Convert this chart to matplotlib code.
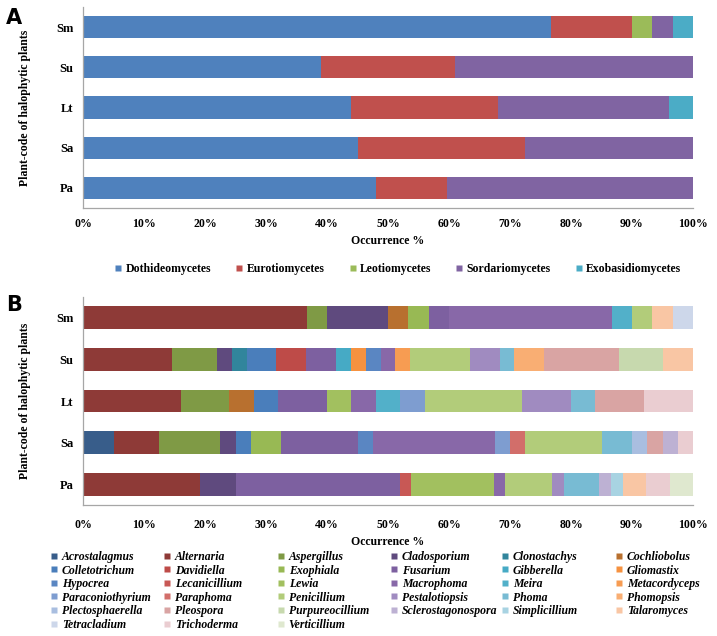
import numpy as np
import matplotlib
matplotlib.use('Agg')
import matplotlib.pyplot as plt
from matplotlib.lines import Line2D

plt.rcParams['font.family'] = ['Liberation Serif', 'DejaVu Serif']
plt.rcParams['font.weight'] = 'bold'

PLANTS = ['Sm', 'Su', 'Lt', 'Sa', 'Pa']

# panel A: isolates per fungal class
CLASSES = ['Dothideomycetes', 'Eurotiomycetes', 'Leotiomycetes',
           'Sordariomycetes', 'Exobasidiomycetes']
CLASS_COLORS = ['#4F81BD', '#C0504D', '#9BBB59', '#8064A2', '#4BACC6']
sm_class = [23, 4, 1, 1, 1]
su_class = [16, 9, 0, 16, 0]
lt_class = [11, 6, 0, 7, 1]
sa_class = [18, 11, 0, 11, 0]
pa_class = [25, 6, 0, 21, 0]

# panel B: isolates per genus
GENERA = ['Acrostalagmus', 'Alternaria', 'Aspergillus', 'Cladosporium', 'Clonostachys', 'Cochliobolus',
          'Colletotrichum', 'Davidiella', 'Exophiala', 'Fusarium', 'Gibberella', 'Gliomastix',
          'Hypocrea', 'Lecanicillium', 'Lewia', 'Macrophoma', 'Meira', 'Metacordyceps',
          'Paraconiothyrium', 'Paraphoma', 'Penicillium', 'Pestalotiopsis', 'Phoma', 'Phomopsis',
          'Plectosphaerella', 'Pleospora', 'Purpureocillium', 'Sclerostagonospora', 'Simplicillium', 'Talaromyces',
          'Tetracladium', 'Trichoderma', 'Verticillium']
GENUS_COLORS = ['#385D8A', '#8E3A37', '#7F9A45', '#5F4A7E', '#31859C', '#B8702F',
                '#4A7EBB', '#BE4B48', '#98B954', '#7D60A0', '#46AAC5', '#F69240',
                '#5A86C2', '#C85855', '#A2C05F', '#8868A8', '#52B0C9', '#F79C52',
                '#7E9DD0', '#D26E6A', '#B2CC7A', '#A08BC0', '#78BBD3', '#F9AE73',
                '#A9BEE0', '#D9A4A3', '#C7D9AE', '#BDB1D3', '#A8D3E2', '#F9C6A4',
                '#CDD7EA', '#EACDD1', '#DFE8CF']
sm_genus = [0, 11, 1, 3, 0, 1, 0, 0, 1, 1, 0, 0, 0, 0, 0, 8, 1, 0,
            0, 0, 1, 0, 0, 0, 0, 0, 0, 0, 0, 1, 1, 0, 0]
su_genus = [0, 6, 3, 1, 1, 0, 2, 2, 0, 2, 1, 1, 1, 0, 0, 1, 0, 1,
            0, 0, 4, 2, 1, 2, 0, 5, 3, 0, 0, 2, 0, 0, 0]
lt_genus = [0, 4, 2, 0, 0, 1, 1, 0, 0, 2, 0, 0, 0, 0, 1, 1, 1, 0,
            1, 0, 4, 2, 1, 0, 0, 2, 0, 0, 0, 0, 0, 2, 0]
sa_genus = [2, 3, 4, 1, 0, 0, 1, 0, 2, 5, 0, 0, 1, 0, 0, 8, 0, 0,
            1, 1, 5, 0, 2, 0, 1, 1, 0, 1, 0, 0, 0, 1, 0]
pa_genus = [0, 10, 0, 3, 0, 0, 0, 0, 0, 14, 0, 0, 0, 1, 7, 1, 0, 0,
            0, 0, 4, 1, 3, 0, 0, 0, 0, 1, 1, 2, 0, 2, 2]

W, H = 717, 636
AXIS_GRAY = '#A6A6A6'


def stacked(ax, table, colors, xpad):
    pct = table / table.sum(axis=1, keepdims=True) * 100
    y = np.arange(len(PLANTS))
    left = np.zeros(len(PLANTS))
    for j in range(pct.shape[1]):
        ax.barh(y, pct[:, j], left=left, height=0.55, color=colors[j],
                edgecolor='none')
        left += pct[:, j]
    ax.set_xlim(0, 100)
    ax.set_ylim(len(PLANTS) - 0.5, -0.5)
    ax.set_yticks(y)
    ax.set_yticklabels(PLANTS, fontsize=9, fontweight='bold')
    ax.set_xticks(np.arange(0, 101, 10))
    ax.set_xticklabels([f'{v}%' for v in range(0, 101, 10)],
                       fontsize=8.5, fontweight='bold')
    ax.tick_params(length=0)
    ax.tick_params(axis='x', pad=xpad)
    ax.tick_params(axis='y', pad=7)
    for s in ['top', 'right']:
        ax.spines[s].set_visible(False)
    for s in ['left', 'bottom']:
        ax.spines[s].set_color(AXIS_GRAY)
        ax.spines[s].set_linewidth(0.9)
    ax.set_xlabel('Occurrence %', fontsize=8.5, fontweight='bold', labelpad=4)
    ax.set_ylabel('Plant-code of halophytic plants', fontsize=8.5,
                  fontweight='bold', labelpad=18)


def square(c):
    return Line2D([], [], marker='s', linestyle='none', markersize=4,
                  markerfacecolor=c, markeredgecolor='none')


def main():
    fig = plt.figure(figsize=(W / 100, H / 100), dpi=100)

    ax_a = fig.add_axes([83 / W, 1 - 208 / H, 610 / W, 201 / H])
    table_a = np.array([sm_class, su_class, lt_class, sa_class, pa_class], float)
    stacked(ax_a, table_a, CLASS_COLORS, xpad=7)

    ax_b = fig.add_axes([83 / W, 1 - 505 / H, 610 / W, 208 / H])
    table_b = np.array([sm_genus, su_genus, lt_genus, sa_genus, pa_genus], float)
    stacked(ax_b, table_b, GENUS_COLORS, xpad=10)

    fig.text(6 / W, 1 - 18 / H, 'A', fontsize=15, fontweight='bold',
             family='DejaVu Sans', va='center')
    fig.text(6 / W, 1 - 305 / H, 'B', fontsize=15, fontweight='bold',
             family='DejaVu Sans', va='center')

    # class legend
    fig.legend([square(c) for c in CLASS_COLORS], CLASSES, ncol=5,
               loc='center', bbox_to_anchor=(398 / W, 1 - 269 / H),
               frameon=False, handlelength=0.6,
               handletextpad=0.3, columnspacing=2.1,
               prop={'weight': 'bold', 'size': 8.5})

    # genus legend, one legend per column so columns line up evenly
    col_x = [50, 163, 277, 390, 501, 615]
    for c, x in enumerate(col_x):
        idx = list(range(c, len(GENERA), 6))
        fig.legend([square(GENUS_COLORS[i]) for i in idx],
                   [GENERA[i] for i in idx],
                   loc='upper left', bbox_to_anchor=(x / W, 1 - 551 / H),
                   frameon=False, handlelength=0.6, handletextpad=0.4,
                   labelspacing=0.13, borderpad=0, borderaxespad=0,
                   prop={'weight': 'bold', 'style': 'italic', 'size': 8.5})

    fig.savefig('out.png', dpi=100)


if __name__ == '__main__':
    main()
